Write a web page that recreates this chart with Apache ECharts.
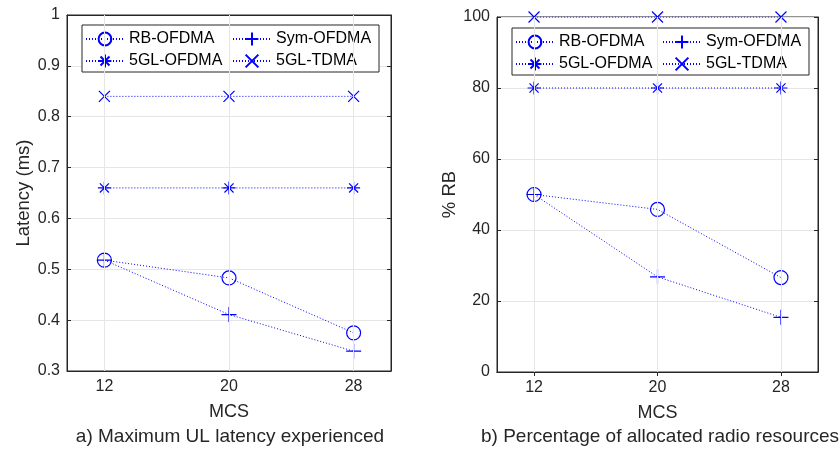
<!DOCTYPE html>
<html>
<head>
<meta charset="utf-8">
<script src="https://cdn.jsdelivr.net/npm/echarts@6/dist/echarts.min.js"></script>
<style>html,body{margin:0;padding:0;background:#fff}#c{width:840px;height:450px}</style>
</head>
<body>
<div id="c"></div>
<script>
// ---- data ----
const mcs = [12, 20, 28];
const seriesNames = ['RB-OFDMA', 'Sym-OFDMA', '5GL-OFDMA', '5GL-TDMA'];
// a) Maximum UL latency (ms)
const latRB = [0.518, 0.483, 0.375];
const latSym = [0.518, 0.411, 0.339];
const lat5GLOFDMA = [0.66, 0.66, 0.66];
const lat5GLTDMA = [0.84, 0.84, 0.84];
// b) Percentage of allocated radio resources (% RB)
const rbRB = [50, 45.8, 26.6];
const rbSym = [50, 26.8, 15.4];
const rb5GLOFDMA = [80, 80, 80];
const rb5GLTDMA = [100, 100, 100];
const latTicks = [0.3, 0.4, 0.5, 0.6, 0.7, 0.8, 0.9, 1];
const rbTicks = [0, 20, 40, 60, 80, 100];

const BLUE = '#0000ff';
const AX = '#262626';
const FONT = 'Liberation Sans, Arial, sans-serif';

const symbols = {
  'RB-OFDMA': 'path://M0,5A5,5 0 1 1 10,5A5,5 0 1 1 0,5Z',
  'Sym-OFDMA': 'path://M0,5L10,5M5,0L5,10',
  '5GL-OFDMA': 'path://M0,5L10,5M5,0L5,10M1.5,1.5L8.5,8.5M8.5,1.5L1.5,8.5',
  '5GL-TDMA': 'path://M0,0L10,10M10,0L0,10'
};
const sizes = {'RB-OFDMA': 14, 'Sym-OFDMA': 15, '5GL-OFDMA': 13, '5GL-TDMA': 11};

function pairs(vals) { return mcs.map((m, i) => [m, vals[i]]); }

function mkSeries(name, vals, gi) {
  return {
    type: 'line', name: name, xAxisIndex: gi * 2, yAxisIndex: gi * 2,
    data: pairs(vals),
    symbol: symbols[name], symbolSize: sizes[name],
    lineStyle: {color: BLUE, width: 1, type: [1, 2]},
    itemStyle: {color: 'rgba(0,0,255,0)', borderColor: BLUE, borderWidth: 1.2},
    emphasis: {disabled: true},
    z: 3,
    animation: false
  };
}

function xAxes(gi) {
  const base = {
    type: 'value', gridIndex: gi, min: 9.6, max: 30.4,
    axisLine: {show: true, lineStyle: {color: AX}},
    axisTick: {inside: true, length: 4, lineStyle: {color: AX}, customValues: mcs},
    splitLine: {show: false}
  };
  return [
    Object.assign({}, base, {
      position: 'bottom',
      axisLabel: {color: AX, fontSize: 16, fontFamily: FONT, margin: 8, customValues: mcs},
      name: 'MCS', nameLocation: 'middle', nameGap: 32,
      nameTextStyle: {color: AX, fontSize: 18, fontFamily: FONT}
    }),
    Object.assign({}, base, {position: 'top', axisLabel: {show: false}})
  ];
}

function yAxes(gi, min, max, interval, name, gap) {
  const base = {
    type: 'value', gridIndex: gi, min: min, max: max, interval: interval,
    axisLine: {show: true, lineStyle: {color: AX}},
    axisTick: {inside: true, length: 4, lineStyle: {color: AX}}
  };
  return [
    Object.assign({}, base, {
      position: 'left',
      axisLabel: {color: AX, fontSize: 16, fontFamily: FONT, margin: 7},
      splitLine: {show: true, lineStyle: {color: '#e6e6e6', width: 1}},
      name: name, nameLocation: 'middle', nameGap: gap, nameRotate: 90,
      nameTextStyle: {color: AX, fontSize: 18.5, fontFamily: FONT}
    }),
    Object.assign({}, base, {position: 'right', axisLabel: {show: false}, splitLine: {show: false}})
  ];
}

function legend(left, top) {
  return {
    left: left, top: top, orient: 'horizontal', width: 292,
    data: seriesNames,
    itemWidth: 38, itemHeight: 16, itemGap: 6,
    padding: [6, 6, 3, 3],
    borderColor: AX, borderWidth: 1, backgroundColor: '#fff',
    selectedMode: false,
    textStyle: {color: '#000', fontSize: 16, fontFamily: FONT, width: 97, lineHeight: 16}
  };
}

const chart = echarts.init(document.getElementById('c'), null, {renderer: 'canvas'});

// vertical grid lines at x ticks
function vGrid(gi) {
  return {
    type: 'line', xAxisIndex: gi * 2, yAxisIndex: gi * 2, data: [], silent: true,
    markLine: {
      silent: true, symbol: 'none', label: {show: false},
      lineStyle: {color: '#e6e6e6', width: 1, type: 'solid'},
      data: mcs.map(m => ({xAxis: m}))
    },
    z: 0, animation: false
  };
}

const option = {
  backgroundColor: '#fff',
  animation: false,
  grid: [
    {left: 67, top: 15, width: 324, height: 356, show: true, borderColor: AX, borderWidth: 1, backgroundColor: 'transparent'},
    {left: 497, top: 17, width: 321, height: 355, show: true, borderColor: AX, borderWidth: 1, backgroundColor: 'transparent'}
  ],
  xAxis: xAxes(0).concat(xAxes(1)),
  yAxis: yAxes(0, 0.3, 1, 0.1, 'Latency (ms)', 33).concat(yAxes(1, 0, 100, 20, '% RB', 37)),
  legend: [legend(82, 25), legend(512, 28)],
  graphic: [
    {type: 'text', x: 230, y: 437, style: {text: 'a) Maximum UL latency experienced', fill: AX, font: '19px ' + FONT, textAlign: 'center', textVerticalAlign: 'middle'}},
    {type: 'text', x: 660, y: 437, style: {text: 'b) Percentage of allocated radio resources', fill: AX, font: '19px ' + FONT, textAlign: 'center', textVerticalAlign: 'middle'}}
  ],
  series: [
    vGrid(0), vGrid(1),
    mkSeries('RB-OFDMA', latRB, 0),
    mkSeries('Sym-OFDMA', latSym, 0),
    mkSeries('5GL-OFDMA', lat5GLOFDMA, 0),
    mkSeries('5GL-TDMA', lat5GLTDMA, 0),
    mkSeries('RB-OFDMA', rbRB, 1),
    mkSeries('Sym-OFDMA', rbSym, 1),
    mkSeries('5GL-OFDMA', rb5GLOFDMA, 1),
    mkSeries('5GL-TDMA', rb5GLTDMA, 1)
  ]
};
chart.setOption(option);
</script>
</body>
</html>
